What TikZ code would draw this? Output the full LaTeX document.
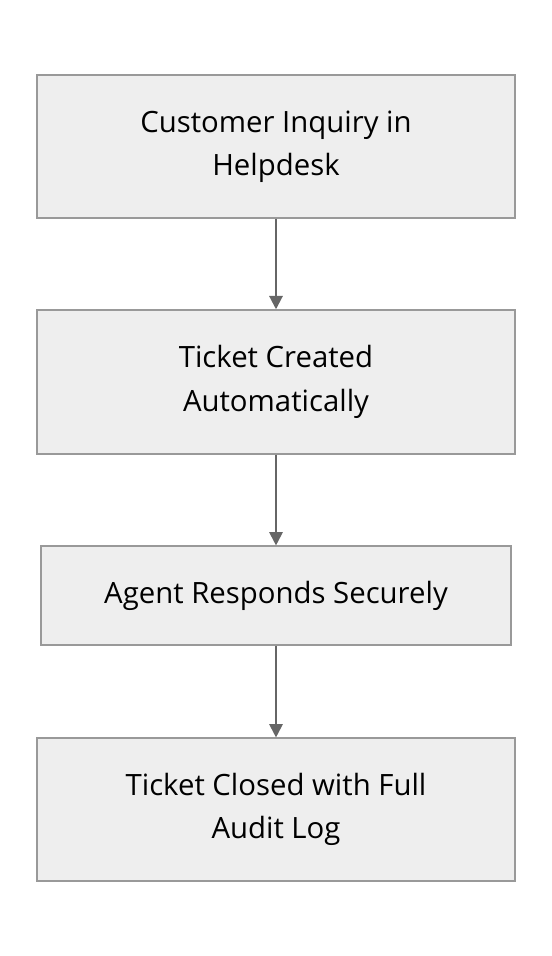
\documentclass[tikz,border=0pt]{standalone}
\usepackage{fontspec}
\setmainfont{Open Sans}
\usepackage{xcolor}
\usetikzlibrary{positioning,arrows.meta}
\definecolor{boxfill}{HTML}{EEEEEE}
\definecolor{boxline}{HTML}{999999}
\definecolor{arrowline}{HTML}{666666}
\begin{document}
\begin{tikzpicture}[x=0.75pt,y=-0.75pt,
  stepbox/.style={draw=boxline, line width=1.1pt, fill=boxfill, align=center,
    minimum width=358.5pt, font=\fontsize{22}{32.5}\selectfont, inner sep=0pt},
  flow/.style={draw=arrowline, line width=1.5pt, -{Triangle[length=10pt,width=10pt]}}]

\useasboundingbox (0,0) rectangle (552,956);

% Boxes
\node [stepbox, minimum height=107pt] (inquiry) at (276,146.5) {Customer Inquiry in\\Helpdesk};
\node [stepbox, minimum height=108pt] (ticket) at (276,382) {Ticket Created\\Automatically};
\node [stepbox, minimum height=74pt, minimum width=352.5pt] (agent) at (276,595.5) {Agent Responds Securely};
\node [stepbox, minimum height=107pt] (closed) at (276,809.5) {Ticket Closed with Full\\Audit Log};

% Arrows
\draw [flow] (inquiry) -- (ticket);
\draw [flow] (ticket) -- (agent);
\draw [flow] (agent) -- (closed);
\end{tikzpicture}
\end{document}
